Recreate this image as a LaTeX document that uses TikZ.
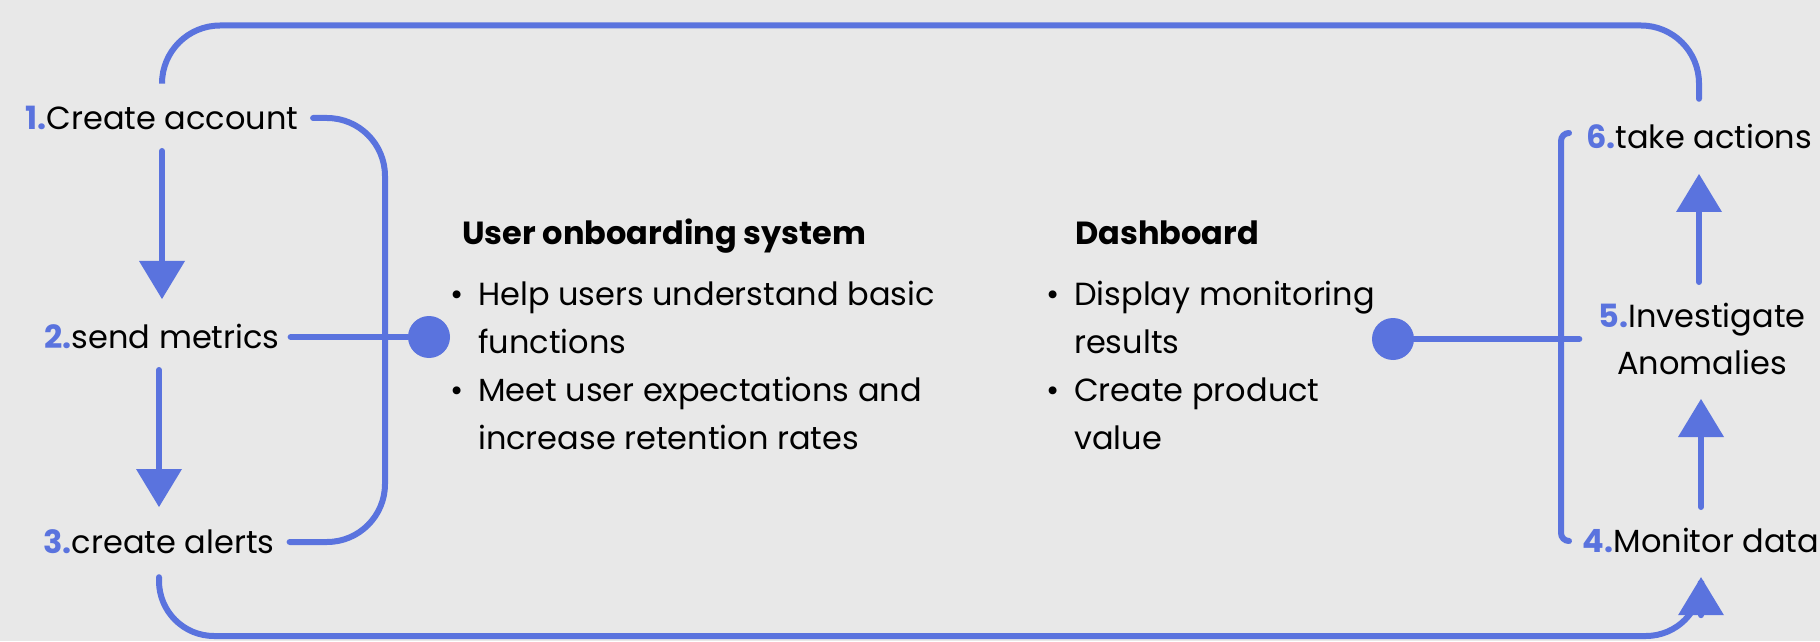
\documentclass[tikz,border=0pt]{standalone}
\usepackage{fontspec}
\setmainfont{Poppins}
\usetikzlibrary{arrows.meta, positioning}

\definecolor{flowblue}{RGB}{90,115,222}
\definecolor{paper}{RGB}{232,232,232}

\tikzset{
  wire/.style={draw=flowblue, line width=6pt, line cap=round},
  flow/.style={wire, -{Triangle[width=46pt,length=38pt,line width=0pt]}},
  stepnode/.style={inner sep=0pt, text height=23pt, text depth=0pt,
    font=\fontsize{32}{40}\selectfont},
  hub/.style={circle, fill=flowblue, minimum size=42pt, inner sep=0pt},
  heading/.style={anchor=west, inner sep=0pt, text height=23pt, text depth=0pt,
    font=\fontsize{32}{40}\selectfont\bfseries},
  bullets/.style={anchor=base west, inner sep=0pt, align=left,
    font=\fontsize{32}{48}\selectfont},
}

\newcommand{\stepnum}[1]{{\color{flowblue}\bfseries #1.}}
\newcommand{\bul}{\makebox[28pt][l]{\textbullet}}
\newcommand{\ind}{\hspace*{28pt}}

\begin{document}
\begin{tikzpicture}[x=1pt, y=1pt]
  % background
  \fill[paper] (0,0) rectangle (1820,641);
  \useasboundingbox (0,0) rectangle (1820,641);

  % left steps
  \node[stepnode] (crt) at (162,523) {\stepnum{1}Create account};
  \node[stepnode] (snd) at (162,304) {\stepnum{2}send metrics};
  \node[stepnode] (alr) at (159,99)  {\stepnum{3}create alerts};

  % right steps
  \node[stepnode] (act) at (1699,504) {\stepnum{6}take actions};
  \node[inner sep=0pt, align=center, font=\fontsize{32}{47}\selectfont]
    (inv) at (1702,302) {\stepnum{5}Investigate\\Anomalies};
  \node[stepnode] (mon) at (1701,100) {\stepnum{4}Monitor data};

  % onboarding block
  \node[heading] (usrT) at (462,408) {User onboarding system};
  \node[bullets] (usrL) at (450,192) {\bul Help users understand basic\\
    \ind functions\\
    \bul Meet user expectations and\\
    \ind increase retention rates};

  % dashboard block
  \node[heading] (dshT) at (1075,408) {Dashboard};
  \node[bullets] (dshL) at (1046,192) {\bul Display monitoring\\
    \ind results\\
    \bul Create product\\
    \ind value};

  \coordinate (topline) at (0,615.5);
  \coordinate (botline) at (0,5);
  \coordinate (brkL) at (385,304);

  % steps 1 -> 2 -> 3
  \draw[flow, shorten <=33pt, shorten >=38pt] (crt.center) -- (crt.center |- snd.center);
  \draw[flow, shorten <=33pt, shorten >=35pt] (alr.center |- snd.center) -- (alr.center);

  % steps 4 -> 5 -> 6
  \draw[flow, shorten <=34pt, shorten >=60pt] (mon.center) -- (mon.center |- inv.center);
  \draw[flow, shorten <=57pt, shorten >=37pt] (act.center |- inv.center) -- (act.center);

  % outer loops
  \draw[wire, rounded corners=58pt] ([yshift=26.5pt]crt.north)
    -- (crt.north |- topline) -- (act.north |- topline)
    -- ([yshift=26.5pt]act.north);
  \draw[flow, rounded corners=55pt] ([yshift=-23.5pt]alr.south)
    -- (alr.south |- botline) -- (mon.south |- botline)
    -- ([yshift=-24.5pt]mon.south);

  % left bracket and hub
  \draw[wire, rounded corners=58pt] ([xshift=14.5pt]crt.east)
    -| (brkL) |- ([xshift=15pt]alr.east);
  \node[hub] (hub1) at (429,304) {};
  \draw[wire] ([xshift=11pt]snd.east) -- (hub1);

  % right bracket and hub
  \draw[wire, rounded corners=8pt] (1569,508) -- (1561,508)
    -- (1561,100) -- (1569,100);
  \node[hub] (hub2) at (1393,302) {};
  \draw[wire] (hub2) -- ([xshift=-19pt]inv.west);
\end{tikzpicture}
\end{document}
